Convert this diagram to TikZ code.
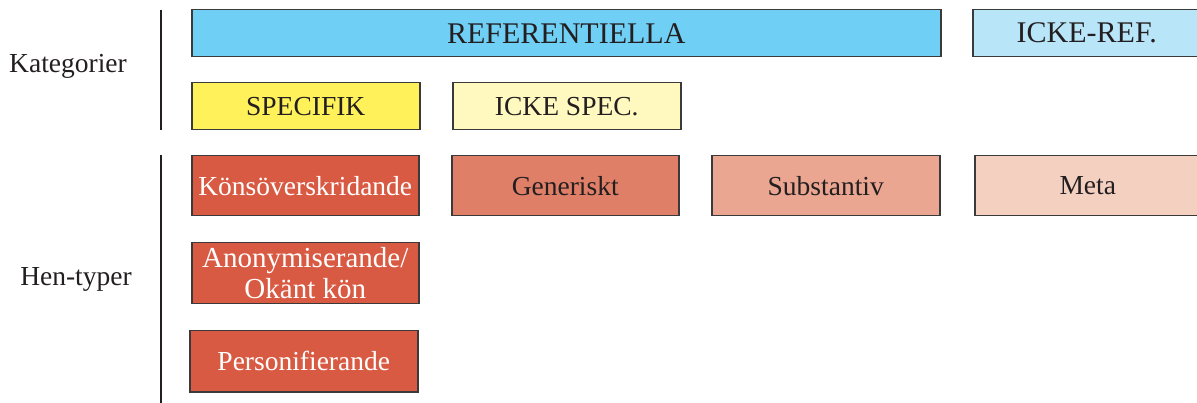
\documentclass[tikz,border=0pt]{standalone}
\usepackage{fontspec}
\setmainfont{Liberation Serif}
\definecolor{refblue}{HTML}{70CFF5}
\definecolor{irefblue}{HTML}{B9E5F9}
\definecolor{specy}{HTML}{FFF15A}
\definecolor{ispecy}{HTML}{FFF9C0}
\definecolor{red1}{HTML}{D95A43}
\definecolor{red2}{HTML}{E07F68}
\definecolor{red3}{HTML}{EAA690}
\definecolor{red4}{HTML}{F4D0C0}
\definecolor{bord}{HTML}{3A3A3A}
\definecolor{txt}{HTML}{231F20}
\tikzset{
  box/.style={draw=bord, line width=1.5pt, anchor=north west, inner sep=0pt, align=center, text=txt, font=\fontsize{27.5}{31}\selectfont},
  wbox/.style={box, text=white},
  lab/.style={text=txt, font=\fontsize{27.5}{31}\selectfont, inner sep=0pt},
}
\begin{document}
\begin{tikzpicture}[x=1pt,y=-1pt]
\useasboundingbox (0,0) rectangle (1197,403);
\node[box, fill=refblue, minimum width=749pt, minimum height=47pt, font=\fontsize{30}{32}\selectfont] (ref) at (191,9) {REFERENTIELLA};
\node[box, fill=irefblue, minimum width=228pt, minimum height=47pt, font=\fontsize{30}{32}\selectfont] (iref) at (972,9) {ICKE-REF.};
\node[box, fill=specy, minimum width=228pt, minimum height=47pt] (spec) at (191,82) {SPECIFIK};
\node[box, fill=ispecy, minimum width=228pt, minimum height=47pt] (ispec) at (452,82) {ICKE SPEC.};
\node[wbox, fill=red1, minimum width=227pt, minimum height=60pt] (kons) at (191,155) {Könsöverskridande};
\node[box, fill=red2, minimum width=227pt, minimum height=60pt] (gen) at (451,155) {Generiskt};
\node[box, fill=red3, minimum width=228pt, minimum height=60pt] (sub) at (711,155) {Substantiv};
\node[box, fill=red4, minimum width=226pt, minimum height=60pt] (meta) at (974,155) {Meta};
\node[wbox, fill=red1, minimum width=227pt, minimum height=61pt, font=\fontsize{29}{31}\selectfont] (anon) at (191,242) {Anonymiserande/\\Okänt kön};
\node[wbox, fill=red1, minimum width=228pt, minimum height=61pt] (pers) at (189,330) {Personifierande};
\node[lab] (kat) at (68,66) {Kategorier};
\node[lab] (hen) at (76,279) {Hen-typer};
\coordinate (l1a) at (161,10);
\coordinate (l1b) at (161,130);
\coordinate (l2a) at (161,155);
\coordinate (l2b) at (161,403);
\draw[line width=1.3pt, draw=txt] (l1a) -- (l1b);
\draw[line width=1.3pt, draw=txt] (l2a) -- (l2b);
\end{tikzpicture}
\end{document}
